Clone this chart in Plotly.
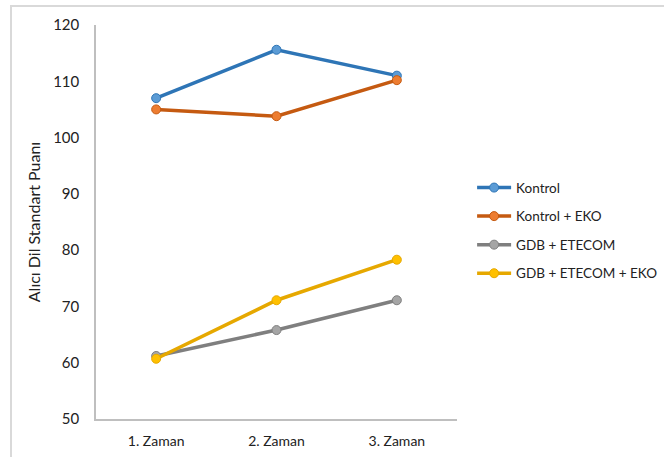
import plotly.graph_objects as go

# Measurement occasions and mean standard scores per group
zamanlar = ["1. Zaman", "2. Zaman", "3. Zaman"]
kontrol = [107.0, 115.6, 111.0]
kontrol_eko = [105.0, 103.8, 110.2]
gdb_etecom = [61.2, 65.8, 71.1]
gdb_etecom_eko = [60.7, 71.1, 78.3]

seriler = [
    ("Kontrol", kontrol, "#2E75B6", "#5B9BD5"),
    ("Kontrol + EKO", kontrol_eko, "#C55A11", "#ED7D31"),
    ("GDB + ETECOM", gdb_etecom, "#7F7F7F", "#A5A5A5"),
    ("GDB + ETECOM + EKO", gdb_etecom_eko, "#E6A800", "#FFC000"),
]

FONT = "Lato"
TEXT = "#222222"

fig = go.Figure()
for ad, degerler, cizgi, dolgu in seriler:
    fig.add_trace(go.Scatter(
        x=zamanlar, y=degerler, name=ad, legendgroup=ad,
        mode="lines+markers",
        line=dict(color=cizgi, width=3.5),
        marker=dict(size=9, color=dolgu, line=dict(color=cizgi, width=1)),
    ))

fig.update_layout(
    width=664, height=457,
    margin=dict(l=96, r=207, t=25, b=38, autoexpand=False),
    paper_bgcolor="white", plot_bgcolor="white",
    font=dict(family=FONT, size=14, color=TEXT),
    showlegend=True,
    legend=dict(
        xref="container", yref="container",
        x=0.711, y=0.623, xanchor="left", yanchor="top",
        font=dict(family=FONT, size=13.5, color=TEXT),
        tracegroupgap=8, itemwidth=34, bgcolor="rgba(0,0,0,0)",
    ),
    xaxis=dict(
        type="category", range=[-0.5, 2.5], automargin=False,
        showline=True, linecolor="#BFBFBF", linewidth=1.5,
        showgrid=False, zeroline=False, ticks="",
        ticklabelstandoff=8,
        tickfont=dict(family=FONT, size=14, color=TEXT),
        fixedrange=True,
    ),
    yaxis=dict(
        range=[50, 120], dtick=10, tick0=50, automargin=False,
        showline=True, linecolor="#BFBFBF", linewidth=1.5,
        showgrid=False, zeroline=False, ticks="",
        ticklabelstandoff=12,
        tickfont=dict(family=FONT, size=15, color=TEXT),
        title=dict(text="Alıcı Dil Standart Puanı", standoff=9,
                   font=dict(family=FONT, size=16, color=TEXT)),
        fixedrange=True,
    ),
    shapes=[dict(
        type="rect", xref="paper", yref="paper",
        x0=-0.2355, x1=1.58, y0=-0.11, y1=1.048,
        line=dict(color="#D9D9D9", width=2), layer="below",
    )],
)

fig.write_html("out.html")
